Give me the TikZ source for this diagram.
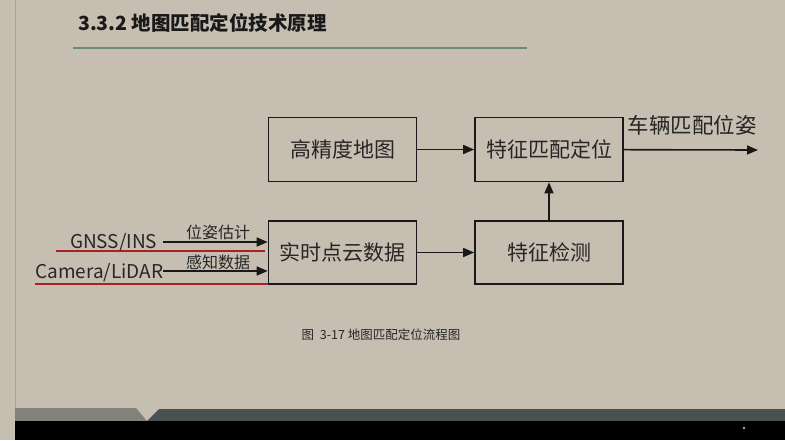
\documentclass[tikz,border=0pt]{standalone}
\usepackage{fontspec}
\setmainfont{Noto Sans CJK SC}
\usetikzlibrary{arrows.meta}
\definecolor{slidebg}{HTML}{C6BEB1}
\definecolor{rulegreen}{HTML}{6D8B79}
\definecolor{uline}{HTML}{A8231F}
\definecolor{bandgrey}{HTML}{82827A}
\definecolor{banddark}{HTML}{4B5050}

\begin{document}
\begin{tikzpicture}[x=1pt, y=-1pt, font=\fontsize{21}{25}\selectfont,
    blk/.style={draw=black!90, line width=1.6pt, minimum width=148pt, minimum height=64pt, inner sep=0pt, text=black!85},
    arr/.style={draw=black!90, line width=1.6pt, -{Triangle[length=11pt,width=9pt]}},
    lbl/.style={inner sep=0pt, text=black!85}]
        \fill[slidebg] (0,0) rectangle (785,440);
        \useasboundingbox (0,0) rectangle (785,440);
        \draw[slidebg!85!black, line width=0.8pt] (15,0) -- (15,440);
        \node[lbl, anchor=west, font=\fontsize{19.5}{23}\selectfont\bfseries, text=black!90] (title) at (78,22.5) {3.3.2 地图匹配定位技术原理};
        \draw[rulegreen, line width=1.6pt] (73,48) -- (527,48);

        \node[blk] (hdmap) at (342.5,149.5) {高精度地图};
        \node[blk] (match) at (549,149.5) {特征匹配定位};
        \node[blk, minimum height=63pt] (cloud) at (342.5,252.5) {实时点云数据};
        \node[blk, minimum height=63pt] (detect) at (549,252.5) {特征检测};

        \node[lbl, anchor=east, font=\fontsize{19}{22}\selectfont] (gnss) at (157.5,243) {GNSS/INS};
        \node[lbl, anchor=east, font=\fontsize{19}{22}\selectfont] (cam) at (163.5,272.5) {Camera/LiDAR};
        \coordinate (gnssout) at (163,242);
        \coordinate (camout) at (163,271);
        \coordinate (pose) at (758,150);

        \draw[arr] (hdmap) -- (match);
        \draw[arr] (cloud) -- (detect);
        \draw[arr] (detect) -- (match);
        \draw[arr] (match) -- (pose);
        \draw[arr] (gnssout) -- (gnssout -| cloud.west);
        \draw[arr] (camout) -- (camout -| cloud.west);
        \draw[uline, line width=1.5pt] (56,251) -- (265,251);
        \draw[uline, line width=1.5pt] (35,284) -- (268,284);

        \node[lbl, font=\fontsize{16}{19}\selectfont] (posest) at (218,232) {位姿估计};
        \node[lbl, font=\fontsize{16}{19}\selectfont] (sense) at (218,262) {感知数据};
        \node[lbl, font=\fontsize{21.5}{25}\selectfont] (vehpose) at (692,125) {车辆匹配位姿};

        \node[lbl, font=\fontsize{12.5}{15}\selectfont] (caption) at (381,334.5) {图\ \ 3-17 地图匹配定位流程图};

        \fill[bandgrey] (15,408) -- (136,408) -- (147,421) -- (15,421) -- cycle;
        \fill[banddark] (159,409) -- (785,409) -- (785,421) -- (147,421) -- cycle;
        \fill[black] (15,421) rectangle (785,440);
        \fill[black!35] (744,428) circle (1.3);
      \end{tikzpicture}
\end{document}
